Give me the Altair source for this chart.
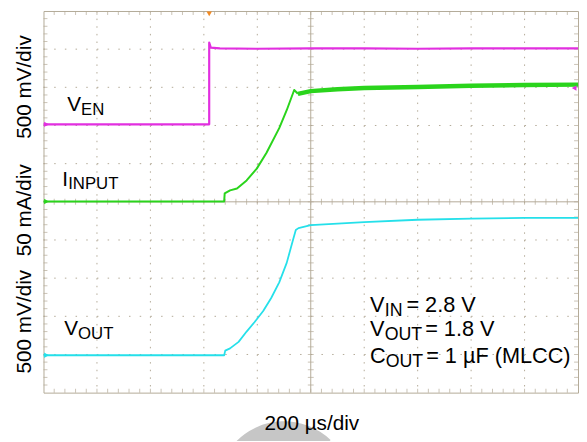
import altair as alt
import pandas as pd

# ---- trace data, in scope divisions (x: 0..10 time, y: 0..10 screen) ----
ven_x = [0.0, 3.10, 3.10, 3.13, 3.30, 4.0, 5.0, 6.0, 7.0, 8.0, 9.0, 10.0]
ven_y = [7.03, 7.03, 9.17, 9.04, 9.02, 9.01, 9.02, 9.02, 9.01, 9.02, 9.02, 9.02]

iin_rise_x = [0.0, 3.38, 3.39, 3.49, 3.62, 3.80, 3.99, 4.17, 4.41, 4.55, 4.69, 4.76]
iin_rise_y = [5.01, 5.01, 5.22, 5.30, 5.35, 5.56, 5.87, 6.28, 6.93, 7.40, 7.93, 7.83]
iin_set_x = [4.76, 5.0, 5.5, 6.0, 7.0, 8.0, 9.0, 10.0]
iin_set_y = [7.83, 7.90, 7.95, 7.98, 8.01, 8.04, 8.06, 8.07]

vout_x = [0.0, 3.38, 3.40, 3.49, 3.65, 3.80, 3.95, 4.11, 4.26, 4.41, 4.55, 4.67, 4.72, 4.77, 5.0, 6.0, 7.0, 8.0, 9.0, 10.0]
vout_y = [0.98, 0.98, 1.10, 1.16, 1.33, 1.60, 1.85, 2.14, 2.48, 2.89, 3.40, 4.01, 4.26, 4.31, 4.39, 4.47, 4.53, 4.56, 4.58, 4.58]

# ---- labels ----
scale_labels = ["500 mV/div", "50 mA/div", "500 mV/div"]
time_label = "200 µs/div"

GRID = "#b3aa97"
MAG = "#e22fe0"
GRN = "#2ad41c"
CYN = "#25e0ea"
WM = "#c6c6c6"
FONT = "Liberation Sans"

W, H = 542, 387
xs = alt.Scale(domain=[0, 10], nice=False, zero=False)
ys = alt.Scale(domain=[0, 10], nice=False, zero=False)
X = lambda f: alt.X(f, scale=xs, axis=None)
Y = lambda f: alt.Y(f, scale=ys, axis=None)
OX, OY = 44, 8  # plot origin on page


def trace_df(xv, yv):
    return pd.DataFrame({"x": xv, "y": yv, "i": list(range(len(xv)))})


def line(df, color, width):
    return alt.Chart(df).mark_line(color=color, strokeWidth=width, strokeJoin="round").encode(
        x=X("x:Q"), y=Y("y:Q"), order="i:Q",
    )


# ---- watermark fragment (partly visible below the graticule) ----
wm_arc = alt.Chart(pd.DataFrame({"a": [0]})).mark_arc(
    color=WM, innerRadius=46, outerRadius=68
).encode(theta=alt.value(5.45), theta2=alt.value(7.05),
         x=alt.value(288 - OX), y=alt.value(492 - OY))

# ---- graticule ----
divs = [1, 2, 3, 4, 6, 7, 8, 9]
vgrid = alt.Chart(pd.DataFrame({"d": divs})).mark_rule(
    color=GRID, strokeWidth=1, strokeDash=[1.5, 6.24]
).encode(x=X("d:Q"), y=alt.value(0), y2=alt.value(H))
hgrid = alt.Chart(pd.DataFrame({"d": divs})).mark_rule(
    color=GRID, strokeWidth=1, strokeDash=[1.5, 9.34]
).encode(y=Y("d:Q"), x=alt.value(0), x2=alt.value(W))
vcenter = alt.Chart(pd.DataFrame({"d": [5]})).mark_rule(color=GRID, strokeWidth=1).encode(
    x=X("d:Q"), y=alt.value(0), y2=alt.value(H))
hcenter = alt.Chart(pd.DataFrame({"d": [5]})).mark_rule(color=GRID, strokeWidth=1).encode(
    y=Y("d:Q"), x=alt.value(0), x2=alt.value(W))

ticks_t = [i / 5 for i in range(1, 50)]


def tick_df(pos):
    return pd.DataFrame({"t": ticks_t, "p": [pos] * len(ticks_t)})


tk_hc = alt.Chart(tick_df(5)).mark_tick(orient="vertical", color=GRID, size=6, thickness=1).encode(
    x=X("t:Q"), y=Y("p:Q"))
tk_vc = alt.Chart(tick_df(5)).mark_tick(orient="horizontal", color=GRID, size=6, thickness=1).encode(
    y=Y("t:Q"), x=X("p:Q"))
tk_bot = alt.Chart(tick_df(0)).mark_tick(orient="vertical", color=GRID, size=4, thickness=1, yOffset=-2).encode(
    x=X("t:Q"), y=Y("p:Q"))
tk_top = alt.Chart(tick_df(10)).mark_tick(orient="vertical", color=GRID, size=4, thickness=1, yOffset=2).encode(
    x=X("t:Q"), y=Y("p:Q"))
tk_left = alt.Chart(tick_df(0)).mark_tick(orient="horizontal", color=GRID, size=4, thickness=1, xOffset=2).encode(
    y=Y("t:Q"), x=X("p:Q"))
tk_right = alt.Chart(tick_df(10)).mark_tick(orient="horizontal", color=GRID, size=4, thickness=1, xOffset=-2).encode(
    y=Y("t:Q"), x=X("p:Q"))

# ---- traces ----
l_ven = line(trace_df(ven_x, ven_y), MAG, 2.2)
l_irise = line(trace_df(iin_rise_x, iin_rise_y), GRN, 2)
l_iset = line(trace_df(iin_set_x, iin_set_y), GRN, 4.5)
l_vout = line(trace_df(vout_x, vout_y), CYN, 1.8)


# ---- channel markers ----
def marker(x, y, shape, color, **kw):
    return alt.Chart(pd.DataFrame({"x": [x], "y": [y]})).mark_point(
        shape=shape, filled=True, size=30, opacity=1, color=color, **kw).encode(
        x=X("x:Q"), y=Y("y:Q"))


markers = [
    marker(0, ven_y[0], "triangle-right", MAG, xOffset=3),
    marker(0, iin_rise_y[0], "triangle-right", GRN, xOffset=3),
    marker(0, vout_y[0], "triangle-right", CYN, xOffset=3),
    marker(ven_x[1], 10, "triangle-down", "#f28a22", yOffset=3),
    marker(10, 7.98, "triangle-left", MAG, xOffset=-4),
]


# ---- text ----
def txt(s, x, y, size=21, **kw):
    return alt.Chart(pd.DataFrame({"s": [s]})).mark_text(
        font=FONT, fontSize=size, color="black", align="left", baseline="alphabetic", **kw
    ).encode(text="s:N", x=alt.value(x), y=alt.value(y))


texts = [
    txt("V", 68 - OX, 109 - OY), txt("EN", 82 - OX, 113 - OY, 17),
    txt("I", 63 - OX, 185 - OY), txt("INPUT", 69 - OX, 189 - OY, 17),
    txt("V", 65 - OX, 337 - OY), txt("OUT", 79 - OX, 341 - OY, 17),
    txt("V", 375 - OX, 313 - OY, 22), txt("IN", 390 - OX, 317 - OY, 18), txt("= 2.8 V", 412 - OX, 313 - OY, 22),
    txt("V", 375 - OX, 338 - OY, 22), txt("OUT", 390 - OX, 342 - OY, 18), txt("= 1.8 V", 431 - OX, 338 - OY, 22),
    txt("C", 375 - OX, 365 - OY, 22), txt("OUT", 391 - OX, 369 - OY, 18), txt("= 1 µF (MLCC)", 432 - OX, 365 - OY, 22),
]
rot_y = [85, 210, 323]
for s, yy in zip(scale_labels, rot_y):
    texts.append(alt.Chart(pd.DataFrame({"s": [s]})).mark_text(
        font=FONT, fontSize=21, color="black", angle=270, align="center", baseline="middle"
    ).encode(text="s:N", x=alt.value(25 - OX), y=alt.value(yy - OY)))
texts.append(alt.Chart(pd.DataFrame({"s": [time_label]})).mark_text(
    font=FONT, fontSize=21, color="black", align="center", baseline="alphabetic"
).encode(text="s:N", x=alt.value(316 - OX), y=alt.value(433 - OY)))

chart = alt.layer(
    wm_arc,
    vgrid, hgrid, vcenter, hcenter, tk_hc, tk_vc, tk_bot, tk_top, tk_left, tk_right,
    l_ven, l_irise, l_iset, l_vout, *markers, *texts
).properties(
    width=W, height=H,
    autosize=alt.AutoSizeParams(type="none"),
    padding={"left": 36, "top": 0, "right": 1, "bottom": 46},
    background="white",
).configure_view(stroke=GRID, strokeWidth=1)

chart.save("out.html", embed_options={"renderer": "svg", "actions": False})
